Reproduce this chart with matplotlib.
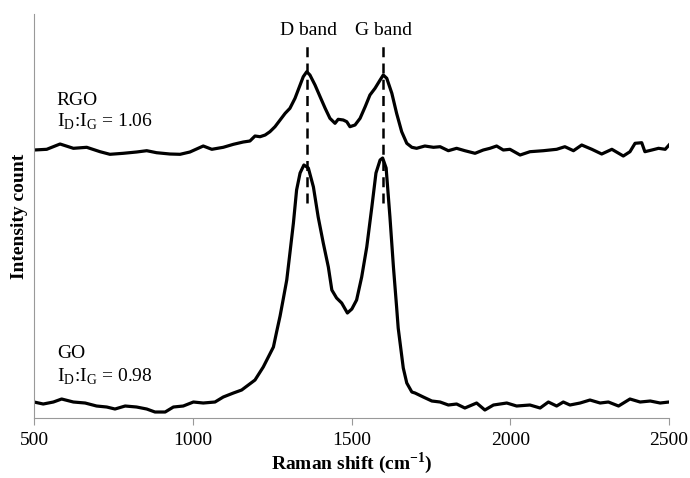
import numpy as np
import matplotlib
matplotlib.use("Agg")
import matplotlib.pyplot as plt

plt.rcParams['font.family'] = ['Liberation Serif', 'DejaVu Serif']
plt.rcParams['mathtext.fontset'] = 'custom'
plt.rcParams['mathtext.rm'] = 'Liberation Serif'
plt.rcParams['mathtext.bf'] = 'Liberation Serif:bold'

# Raman spectra (arbitrary intensity units)
rgo_shift = [500, 540, 582, 624, 666, 708, 739, 781, 823, 855, 886, 928, 960, 991,
             1033, 1060, 1096, 1128, 1159, 1180, 1196, 1212, 1228, 1243, 1259, 1275,
             1291, 1306, 1322, 1338, 1348, 1359, 1369, 1385, 1401, 1417, 1432, 1448,
             1458, 1474, 1485, 1495, 1511, 1527, 1543, 1558, 1574, 1590, 1600, 1611,
             1627, 1642, 1658, 1674, 1690, 1705, 1731, 1758, 1779, 1805, 1831, 1857,
             1889, 1915, 1936, 1957, 1978, 1999, 2031, 2062, 2104, 2146, 2172, 2199,
             2225, 2257, 2288, 2320, 2356, 2377, 2393, 2414, 2424, 2446, 2467, 2488, 2500]
rgo_int = [268, 268.7, 274, 269.7, 270.7, 266.3, 263.7, 264.7, 266, 267.3, 265.3, 264, 263.7, 266,
           272, 268.7, 270.7, 273.7, 276, 277, 282, 281.3, 283, 286.3, 291.3, 298,
           304.7, 309.7, 319.7, 333, 341.3, 346.3, 343, 333, 321.3, 309.7, 299.7, 294.7,
           298.7, 298, 296.3, 291.3, 293, 299.7, 311.3, 323, 329.7, 338, 343, 339.7,
           324.7, 304.7, 286.3, 274.7, 270.7, 269.7, 272, 270.7, 271.3, 267.3, 269.7, 267.3,
           264.7, 268, 269.7, 272, 268, 268.7, 263, 266.3, 267.3, 268.7, 271.3, 267.3,
           273, 268.7, 264, 268.7, 262, 266.3, 274.7, 275.3, 266.3, 268, 269.7, 268.7, 273]

go_shift = [500, 529, 561, 587, 624, 661, 697, 729, 755, 787, 823, 855, 881, 913, 939, 970,
            1002, 1033, 1070, 1096, 1128, 1154, 1175, 1196, 1222, 1254, 1264, 1275, 1285,
            1296, 1306, 1317, 1327, 1338, 1350, 1364, 1380, 1395, 1411, 1427, 1438, 1453,
            1469, 1487, 1501, 1516, 1532, 1548, 1564, 1577, 1590, 1598, 1609, 1621, 1632,
            1642, 1647, 1655, 1663, 1674, 1690, 1700, 1726, 1753, 1779, 1805, 1831, 1857,
            1894, 1920, 1947, 1989, 2020, 2062, 2094, 2120, 2146, 2167, 2188, 2220, 2251,
            2283, 2309, 2341, 2377, 2409, 2441, 2472, 2500]
go_int = [16, 14, 16, 19, 16, 15, 12, 11, 9, 12, 11, 9, 6, 6, 11, 12,
          16, 15, 16, 21, 25, 28, 33, 38, 51, 71, 86, 102, 119,
          138, 165, 195, 228, 245, 253, 250, 231, 201, 175, 151, 128, 120,
          115, 105, 109, 118, 141, 171, 211, 245, 258, 260, 250, 201, 151,
          111, 90, 70, 50, 35, 26, 25, 21, 17, 16, 13, 14, 10,
          15, 8, 13, 15, 12, 13, 10, 16, 12, 16, 13, 15, 18,
          15, 16, 12, 19, 16, 17, 15, 16]

band_pos = [1360, 1598]
band_names = ['D band', 'G band']

fig = plt.figure(figsize=(6.9, 4.78), dpi=100)
ax = fig.add_axes([0.0493, 0.1255, 0.9203, 0.8452])

ax.plot(rgo_shift, rgo_int, color='black', lw=2.3)
ax.plot(go_shift, go_int, color='black', lw=2.3)

for pos, name in zip(band_pos, band_names):
    ax.plot([pos, pos], [215, 375], color='black', lw=1.8, ls=(0, (4, 2.5)))
    ax.text(pos + 3, 388, name, ha='center', va='center', fontsize=14)

ax.text(572, 318, 'RGO', ha='left', va='center', fontsize=14)
ax.text(572, 296, r'I$_\mathrm{D}$:I$_\mathrm{G}$ = 1.06', ha='left', va='center', fontsize=14)
ax.text(572, 65, 'GO', ha='left', va='center', fontsize=14)
ax.text(572, 41, r'I$_\mathrm{D}$:I$_\mathrm{G}$ = 0.98', ha='left', va='center', fontsize=14)

ax.set_xlim(500, 2500)
ax.set_ylim(0, 404)
ax.set_xticks([500, 1000, 1500, 2000, 2500])
ax.set_yticks([])
ax.tick_params(axis='x', direction='out', length=5, width=0.8, color='#999999',
               labelsize=14, pad=5)
for side in ['top', 'right']:
    ax.spines[side].set_visible(False)
for side in ['left', 'bottom']:
    ax.spines[side].set_color('#999999')
    ax.spines[side].set_linewidth(0.8)

ax.set_xlabel(r'Raman shift (cm$^{\mathbf{-1}}$)', fontsize=14, fontweight='bold', labelpad=1)
ax.set_ylabel('Intensity count', fontsize=14, fontweight='bold', labelpad=4)

fig.savefig('out.png', dpi=100)
